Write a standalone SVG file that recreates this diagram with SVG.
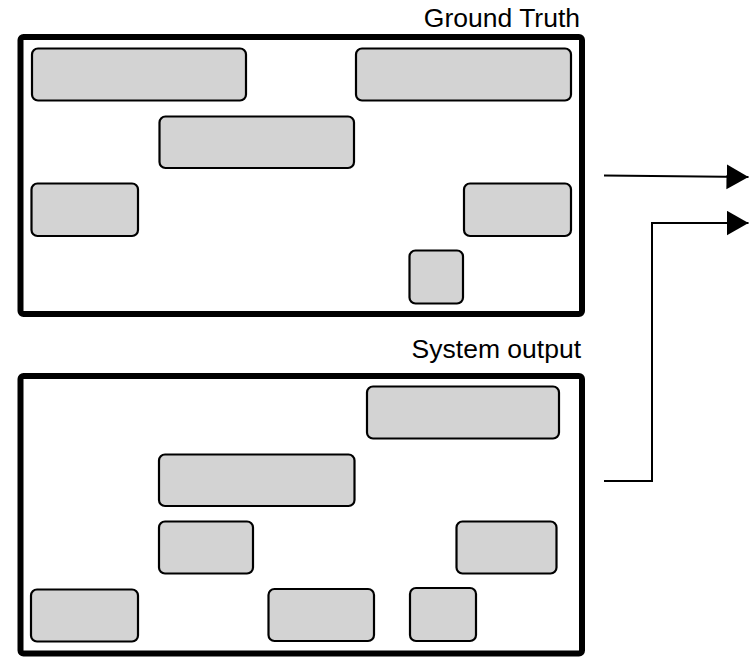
<svg xmlns="http://www.w3.org/2000/svg" width="756" height="669" viewBox="0 0 756 669">
<style>
.frame{fill:#ffffff;stroke:#000000;stroke-width:6}
.box{fill:#d3d3d3;stroke:#000000;stroke-width:2.2}
.lbl{font-family:"Liberation Sans",Arial,sans-serif;font-size:26.5px;fill:#000000;text-anchor:end}
.conn{fill:none;stroke:#000000;stroke-width:2}
</style>
<defs>
<marker id="arr" markerUnits="userSpaceOnUse" markerWidth="24" markerHeight="26" refX="22" refY="12.5" orient="auto">
<path d="M0,0 L22,12.5 L0,25 Z" fill="#000000"/>
</marker>
</defs>
<rect width="756" height="669" fill="#ffffff"/>
<g id="ground-truth">
<text class="lbl" x="580" y="27">Ground Truth</text>
<rect class="frame" x="20.5" y="37" width="561.5" height="277" rx="3"/>
<rect id="gt1" class="box" x="32" y="48.5" width="214" height="52" rx="6"/>
<rect id="gt2" class="box" x="356" y="48.5" width="215" height="52" rx="6"/>
<rect id="gt3" class="box" x="159.5" y="116.5" width="194.5" height="51.5" rx="6"/>
<rect id="gt4" class="box" x="31.5" y="183.5" width="106.5" height="52.5" rx="6"/>
<rect id="gt5" class="box" x="464" y="183.5" width="107" height="52.5" rx="6"/>
<rect id="gt6" class="box" x="409.5" y="250.5" width="53.5" height="53" rx="6"/>
</g>
<g id="system-output">
<text class="lbl" x="581" y="358">System output</text>
<rect class="frame" x="20.5" y="376" width="561.5" height="277.5" rx="3"/>
<rect id="so1" class="box" x="367" y="386.5" width="192" height="52" rx="6"/>
<rect id="so2" class="box" x="159" y="454.5" width="195.5" height="51.5" rx="6"/>
<rect id="so3" class="box" x="159" y="521.5" width="94" height="52" rx="6"/>
<rect id="so4" class="box" x="456.5" y="521.5" width="100" height="52" rx="6"/>
<rect id="so5" class="box" x="31" y="589.5" width="107" height="52" rx="6"/>
<rect id="so6" class="box" x="268.5" y="589" width="105.5" height="52" rx="6"/>
<rect id="so7" class="box" x="410" y="588" width="66" height="53" rx="6"/>
</g>
<g id="connectors">
<line class="conn" x1="604" y1="175.5" x2="748.5" y2="177" marker-end="url(#arr)"/>
<polyline class="conn" points="604,481 652,481 652,223 748.5,223" marker-end="url(#arr)"/>
</g>
</svg>
